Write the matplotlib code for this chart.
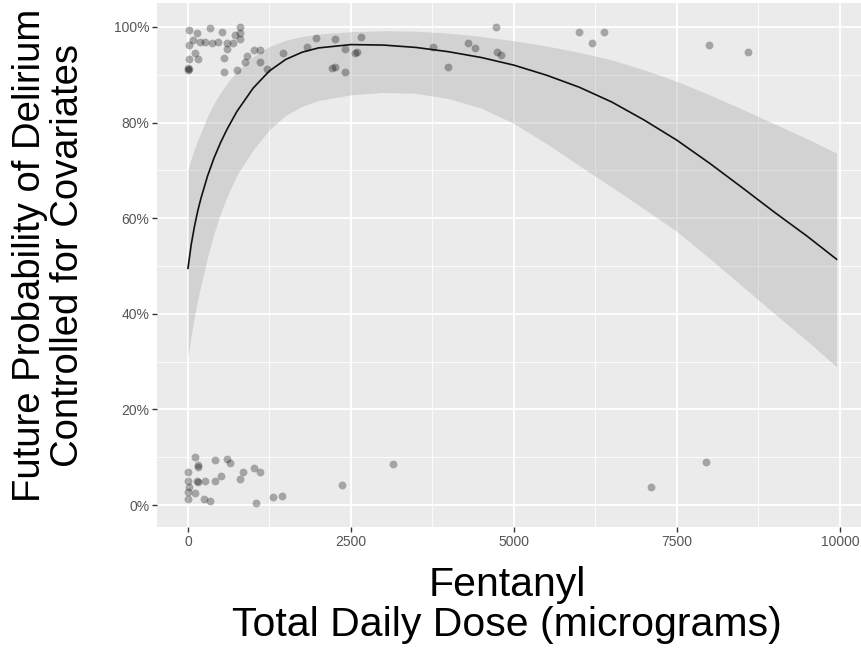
import matplotlib
matplotlib.use('Agg')
import matplotlib.pyplot as plt
from matplotlib.ticker import PercentFormatter

# Fitted curve and confidence band (in %)
curve_x = [0, 50, 100, 150, 200, 300, 400, 500, 600, 750, 1000, 1250, 1500, 1750, 2000,
           2500, 3000, 3500, 4000, 4500, 5000, 5500, 6000, 6500, 7000, 7500, 8000, 8500,
           9000, 9500, 9950]
fit = [49.5, 54.5, 58.3, 61.5, 64.2, 68.8, 72.6, 75.8, 78.6, 82.3, 87.2, 90.8, 93.2, 94.7, 95.6,
       96.3, 96.2, 95.7, 94.8, 93.6, 92.0, 89.9, 87.4, 84.3, 80.5, 76.3, 71.5, 66.4,
       61.2, 56.2, 51.4]
upper = [70.0, 72.5, 74.5, 76.3, 78.0, 81.3, 84.0, 86.3, 88.2, 90.7, 93.8, 95.9, 97.2, 98.0, 98.5,
         99.0, 99.2, 99.1, 98.7, 98.0, 97.1, 96.0, 94.7, 93.1, 91.0, 88.6, 85.8, 82.8,
         79.7, 76.6, 73.6]
lower = [31.0, 35.5, 39.5, 43.0, 46.0, 51.8, 56.8, 61.0, 64.5, 69.0, 74.3, 78.5, 81.5, 83.4, 84.6,
         85.8, 86.3, 86.1, 85.0, 83.0, 79.8, 75.6, 71.0, 66.5, 61.9, 57.2, 51.6, 45.8,
         40.0, 34.3, 28.9]

# Observed patients (jittered), dose vs outcome in %
dose = [15, 138, 337, 522, 798, 798, 721, 15, 77, 184, 261, 368, 460, 598, 690, 798, 598, 15,
        107, 153, 5, 12, 8, 552, 552, 752, 874, 905, 1012, 1104, 1104, 1212, 1457, 1825, 1963,
        2255, 2408, 2209, 2255, 2408, 2562, 2592, 2654, 3758, 3988, 4295, 4403, 4725, 4740,
        4801, 5998, 6197, 6381, 7992, 8590,
        107, 150, 158, 0, 414, 598, 644, 844, 1012, 1104, 798, 506, 414, 261, 145, 158, 0, 0,
        107, 0, 245, 337, 1043, 1304, 1442, 2362, 3145, 7102, 7946, 15]
outcome = [99.4, 98.7, 99.8, 99.0, 99.9, 98.7, 98.3, 96.2, 97.3, 96.9, 96.9, 96.6, 96.9, 96.6,
           96.6, 97.5, 95.4, 93.3, 94.6, 93.3, 91.5, 91.2, 91.0, 93.5, 90.6, 91.0, 92.7, 93.9,
           95.2, 95.2, 92.7, 91.2, 94.6, 95.8, 97.7, 97.5, 95.4, 91.4, 91.6, 90.6, 94.6, 94.8,
           97.9, 95.8, 91.6, 96.6, 95.6, 100.0, 94.8, 94.1, 98.9, 96.6, 98.9, 96.2, 94.8,
           10.0, 8.3, 8.0, 7.0, 9.4, 9.6, 8.8, 6.9, 7.7, 6.8, 5.4, 6.1, 5.0, 5.0, 5.1, 4.9, 5.0,
           2.7, 2.5, 1.3, 1.3, 0.8, 0.4, 1.7, 1.9, 4.2, 8.6, 3.8, 9.0, 3.8]

x_ticks = [0, 2500, 5000, 7500, 10000]
y_ticks = [0, 20, 40, 60, 80, 100]

plt.rcParams['font.family'] = ['Liberation Sans', 'DejaVu Sans']

fig = plt.figure(figsize=(8.61, 6.53), dpi=100)
ax = fig.add_axes([157 / 861, 1 - 527 / 653, 1 - 157 / 861, 524 / 653])
ax.set_facecolor('#ebebeb')

ax.scatter(dose, outcome, s=32, color='black', alpha=0.3, linewidths=0, zorder=3)
ax.fill_between(curve_x, lower, upper, color='#999999', alpha=0.3, linewidth=0, zorder=2)
ax.plot(curve_x, fit, color='#111111', lw=1.2, zorder=4)

ax.set_xlim(-475, 10324)
ax.set_ylim(-4.6, 105.0)
ax.set_xticks(x_ticks)
ax.set_xticklabels([str(t) for t in x_ticks])
ax.set_yticks(y_ticks)
ax.yaxis.set_major_formatter(PercentFormatter(decimals=0))
ax.set_xticks([1250, 3750, 6250, 8750], minor=True)
ax.set_yticks([10, 30, 50, 70, 90], minor=True)

ax.grid(which='major', color='white', lw=1.3, zorder=0)
ax.grid(which='minor', color='white', lw=0.6, zorder=0)
ax.set_axisbelow(True)
for s in ax.spines.values():
    s.set_visible(False)
ax.tick_params(which='major', length=3.5, width=1, color='#333333',
               labelsize=10, labelcolor='#555555', pad=2)
ax.tick_params(which='minor', length=0)

fig.text(49 / 861, 1 - 255 / 653, 'Future Probability of Delirium\nControlled for Covariates',
         rotation=90, ha='center', va='center', fontsize=27.5, linespacing=1.1)
fig.text(507 / 861, 1 - 605 / 653, 'Fentanyl\nTotal Daily Dose (micrograms)',
         ha='center', va='center', fontsize=29.5, linespacing=1.05)

fig.savefig('out.png', dpi=100)
